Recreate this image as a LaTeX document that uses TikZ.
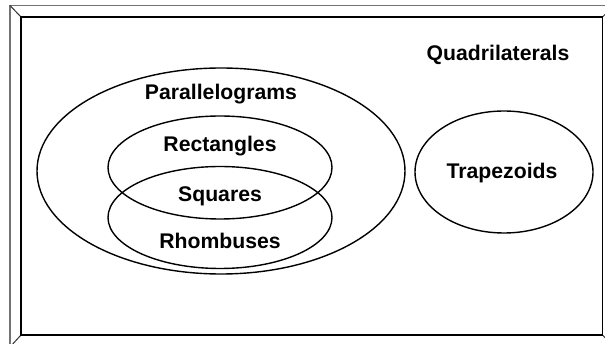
\documentclass[tikz,border=0pt]{standalone}
\usepackage{fontspec}
\setmainfont{Liberation Sans}
\usetikzlibrary{shapes.geometric}
\begin{document}
\begin{tikzpicture}[x=1pt,y=-1pt,
  set/.style={draw=black,line width=1.4pt,ellipse,inner sep=0pt},
  lbl/.style={font=\fontsize{21.2}{23}\selectfont\bfseries,inner sep=0pt,anchor=base},
  outerline/.style={draw=black!55,line width=1.3pt},
  innerline/.style={draw=black,line width=1.8pt}]
\useasboundingbox (0,0) rectangle (605,344);
\clip (0,0) rectangle (605,344);
% frame
\coordinate (o1) at (10,5.5);
\coordinate (o2) at (614,5.5);
\coordinate (o3) at (614,347);
\coordinate (o4) at (10,347);
\coordinate (i1) at (21,17);
\coordinate (i2) at (602.5,17);
\coordinate (i3) at (602.5,335);
\coordinate (i4) at (21,335);
\draw[outerline] (o4) -- (o1) -- (o2);
\draw[outerline,draw=black!80,line width=1pt] (o1) -- (i1) (o2) -- (i2) (o3) -- (i3) (o4) -- (i4);
\draw[innerline] (i1) -- (i2) -- (i3) -- (i4) -- cycle;
% sets
\node[set,minimum width=368pt,minimum height=206pt] (par) at (221,171) {};
\node[set,minimum width=224pt,minimum height=103pt] (rect) at (220,167.5) {};
\node[set,minimum width=224pt,minimum height=102pt] (rho) at (220,217.5) {};
\node[set,minimum width=178pt,minimum height=122pt] (tra) at (504,172) {};
% labels
\node[lbl] (tq) at (498,60.5) {Quadrilaterals};
\node[lbl] (tp) at (221,100) {Parallelograms};
\node[lbl] (tr) at (220,151.3) {Rectangles};
\node[lbl] (ts) at (220,201.7) {Squares};
\node[lbl] (th) at (220,248.3) {Rhombuses};
\node[lbl] (tt) at (502,178.3) {Trapezoids};
\end{tikzpicture}
\end{document}
